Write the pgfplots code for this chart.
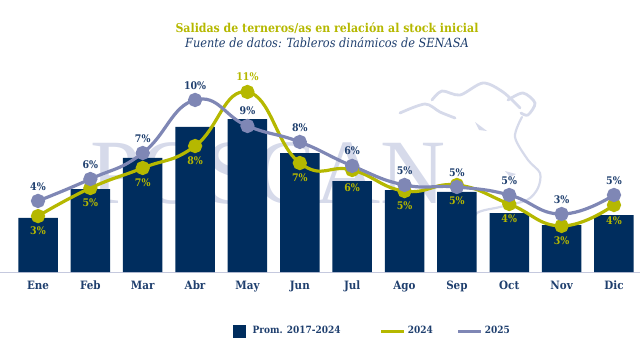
\documentclass[border=0pt]{standalone}
\usepackage{pgfplots}
\pgfplotsset{compat=1.18}
\usepackage{fontspec}
\setmainfont{DejaVu Serif Condensed}
\newfontfamily\wm{Liberation Serif}
\definecolor{navy}{HTML}{002D5E}
\definecolor{olive}{HTML}{B5B800}
\definecolor{purp}{HTML}{7F87B5}
\definecolor{txt}{HTML}{1F3F6E}
\definecolor{wmc}{HTML}{D6DAEA}
\pgfplotstableread{
x y
0 3.18
1 4.88
2 6.71
3 8.53
4 9.00
5 7.00
6 5.35
7 4.82
8 4.71
9 3.47
10 2.76
11 3.35
}\tprom
\pgfplotstableread{
x y lab dy
0 3.29 3 -15
1 4.94 5 -15
2 6.12 7 -15
3 7.41 8 -15
4 10.59 11 15
5 6.41 7 -15
6 6.00 6 -18
7 4.76 5 -15
8 5.12 5 -16
9 4.00 4 -15
10 2.71 3 -15
11 3.94 4 -16
}\tA
\pgfplotstableread{
x y lab dy
0 4.18 4 14
1 5.47 6 14
2 7.00 7 14
3 10.12 10 14
4 8.59 9 15
5 7.65 8 14
6 6.24 6 15
7 5.12 5 14
8 5.00 5 14
9 4.53 5 14
10 3.41 3 14
11 4.53 5 14
}\tB
\pgfplotsset{base/.style={scale only axis,width=640pt,height=272pt,
  xmin=-0.726,xmax=11.497,ymin=0,ymax=16}}
\begin{document}
\begin{tikzpicture}
\useasboundingbox (0,-82pt) rectangle (640pt,272pt);
% watermark
\node[text=wmc,anchor=base,font=\wm\fontsize{92}{92}\selectfont,xscale=0.98] at (268pt,69pt) {POSCAN};
\begin{scope}[yshift=272pt,x=1pt,y=-1pt,wmc,line width=2.8pt,line cap=round,line join=round]
\draw plot[smooth] coordinates {(400,113) (425,104) (440,112) (455,118)};
\draw plot[smooth] coordinates {(432,100) (442,91) (460,95) (483,83) (503,92) (520,108)};
\draw plot[smooth] coordinates {(508,100) (523,93) (535,103) (528,115) (521,113)};
\draw[line width=2.2pt] plot[smooth] coordinates {(522,117) (515,137) (528,160) (540,173) (538,188) (527,200) (500,207) (477,213) (467,230) (447,240)};
\fill (475,122) -- (487,131) -- (479,130) -- cycle;
\fill (505,171) -- (516,174) -- (510,177) -- cycle;
\end{scope}
\begin{axis}[base,bar width=39.5pt,
  axis x line=bottom,axis y line=none,axis line style={-,draw=purp!45,line width=1pt},
  xtick={0,...,11},xticklabels={Ene,Feb,Mar,Abr,May,Jun,Jul,Ago,Sep,Oct,Nov,Dic},
  major tick length=0pt,
  xticklabel style={font=\fontsize{11.5}{13}\selectfont\bfseries,text=txt,text height=9pt,text depth=2.5pt,yshift=-5pt}]
\addplot[ybar,fill=navy,draw=none] table[x=x,y=y]{\tprom};
\end{axis}
\begin{axis}[base,hide axis,clip=false,
  legend style={at={(230pt,-59pt)},anchor=west,draw=none,fill=none,
    font=\fontsize{10}{11}\selectfont\bfseries,text=txt,
    /tikz/column 2/.style={column sep=37pt},/tikz/column 4/.style={column sep=22pt}},
  legend columns=3,legend cell align=left,
  nodes near coords={\pgfplotspointmeta\%},
  point meta=explicit symbolic,
  visualization depends on=\thisrow{dy}\as\dy,
  every node near coord/.style={anchor=center,yshift=\dy pt,font=\fontsize{10.5}{12}\selectfont\bfseries}]
\addlegendimage{legend image code/.code={\fill[navy] (0pt,-6pt) rectangle (12pt,6pt);}}
\addlegendentry{\hspace{5pt}Prom. 2017-2024}
\addlegendimage{legend image code/.code={\draw[olive,line width=3pt] (0pt,0pt) -- (23pt,0pt);}}
\addlegendentry{2024}
\addlegendimage{legend image code/.code={\draw[purp,line width=3pt] (0pt,0pt) -- (23pt,0pt);}}
\addlegendentry{2025}
\addplot[olive,line width=3.2pt,smooth,tension=0.8,mark=*,mark size=5.5pt,mark options={fill=olive,draw=none},
  forget plot,every node near coord/.append style={text=olive}] table[x=x,y=y,meta=lab]{\tA};
\addplot[purp,line width=3.2pt,smooth,tension=0.8,mark=*,mark size=5.5pt,mark options={fill=purp,draw=none},
  forget plot,every node near coord/.append style={text=txt}] table[x=x,y=y,meta=lab]{\tB};
\end{axis}
\node[anchor=center,text=olive,font=\fontsize{12.2}{13}\selectfont\bfseries] at (327pt,244pt) {Salidas de terneros/as en relación al stock inicial};
\node[anchor=center,text=txt,font=\fontsize{12.6}{13}\selectfont\itshape] at (327pt,229pt) {Fuente de datos: Tableros dinámicos de SENASA};
\end{tikzpicture}
\end{document}
